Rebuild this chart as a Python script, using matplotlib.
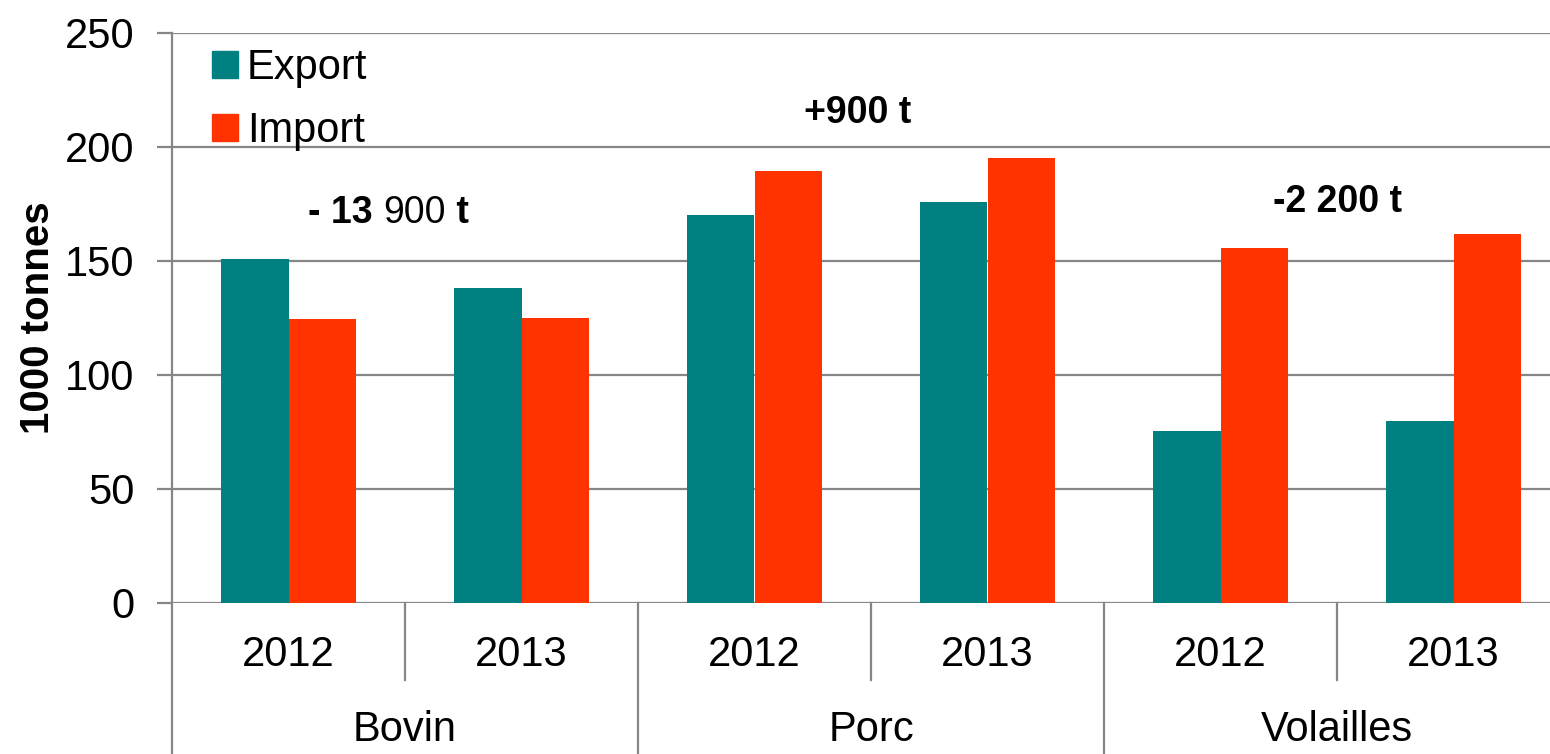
import matplotlib
matplotlib.use("Agg")
import matplotlib.pyplot as plt
import matplotlib.transforms as mtransforms
from matplotlib.patches import Patch

plt.rcParams['font.family'] = ['Liberation Sans', 'DejaVu Sans']

groups = ["Bovin", "Porc", "Volailles"]
years = ["2012", "2013"]
export_vals = [151, 138, 170, 176, 75.5, 80]
import_vals = [124.5, 125, 189.5, 195, 155.5, 162]
series_names = ["Export", "Import"]
annotations = [("- 13 ", "900", " t"), ("+900 t",), ("-2 200 t",)]
ann_pos = [(0.584, 171), (2.944, 215), (5.004, 176)]
yticks = [0, 50, 100, 150, 200, 250]

C_EXP = "#008080"
C_IMP = "#FF3300"
GRID = "#868686"
FS = 30

W, H = 1550, 754
fig = plt.figure(figsize=(W / 100, H / 100), dpi=100)
x0, x1, ytop, ybot = 172, 1570, 33, 603
ax = fig.add_axes([x0 / W, 1 - ybot / H, (x1 - x0) / W, (ybot - ytop) / H])

n = len(export_vals)
centers = [i + 0.5 for i in range(n)]
bw = 0.288
ax.bar([c - bw / 2 for c in centers], export_vals, width=bw, color=C_EXP, label=series_names[0], zorder=3)
ax.bar([c + bw / 2 for c in centers], import_vals, width=bw, color=C_IMP, label=series_names[1], zorder=3)

ax.set_xlim(0, n)
ax.set_ylim(0, 250)
ax.set_yticks(yticks)
ax.set_xticks([])
for s in ["top", "right", "bottom"]:
    ax.spines[s].set_visible(False)
ax.spines["left"].set_visible(False)
ax.yaxis.grid(True, color=GRID, linewidth=1.6, zorder=0)
ax.tick_params(axis='y', length=11, width=1.6, color=GRID, pad=16, labelsize=FS)

ylen = ybot - ytop
trans = mtransforms.blended_transform_factory(ax.transData, ax.transAxes)
# left axis line extending below
ax.plot([0, 0], [1, -(H - ytop) / ylen], transform=trans, color=GRID, lw=1.6, clip_on=False, zorder=4)
# separators
short_y = -(680 - ybot) / ylen
long_y = -(H + 5 - ybot) / ylen
for k in range(1, n):
    yend = long_y if k % 2 == 0 else short_y
    ax.plot([k, k], [0, yend], transform=trans, color=GRID, lw=1.6, clip_on=False)
# year labels
for i, c in enumerate(centers):
    ax.text(c, -(655 - ybot) / ylen, years[i % 2], transform=trans, ha='center', va='center', fontsize=FS)
for g, name in enumerate(groups):
    ax.text(2 * g + 1, -(730 - ybot) / ylen, name, transform=trans, ha='center', va='center', fontsize=FS)

fig.text(38 / W, 1 - 318 / H, "1000 tonnes", rotation=90, ha='center', va='center', fontsize=29, fontweight='bold')

handles = [Patch(color=C_EXP), Patch(color=C_IMP)]
ax.legend(handles, series_names, loc='upper left', bbox_to_anchor=((212 - x0) / (x1 - x0), (ybot - 48) / ylen),
          frameon=False, fontsize=FS, handlelength=0.62, handleheight=0.6, handletextpad=0.22,
          labelspacing=0.56, borderpad=0, borderaxespad=0)

AFS = 27
# mixed weight annotation
t1 = ax.text(ann_pos[0][0], ann_pos[0][1], annotations[0][0], ha='left', va='center', fontsize=AFS, fontweight='bold')
t2 = ax.annotate(annotations[0][1], xy=(1, 0.5), xycoords=t1, xytext=(0, 0), textcoords='offset points',
                 ha='left', va='center', fontsize=AFS)
t3 = ax.annotate(annotations[0][2], xy=(1, 0.5), xycoords=t2, xytext=(0, 0), textcoords='offset points',
                 ha='left', va='center', fontsize=AFS, fontweight='bold')
for a, (x, y) in zip(annotations[1:], ann_pos[1:]):
    ax.text(x, y, a[0], ha='center', va='center', fontsize=AFS, fontweight='bold')

fig.savefig("out.png", dpi=100)
